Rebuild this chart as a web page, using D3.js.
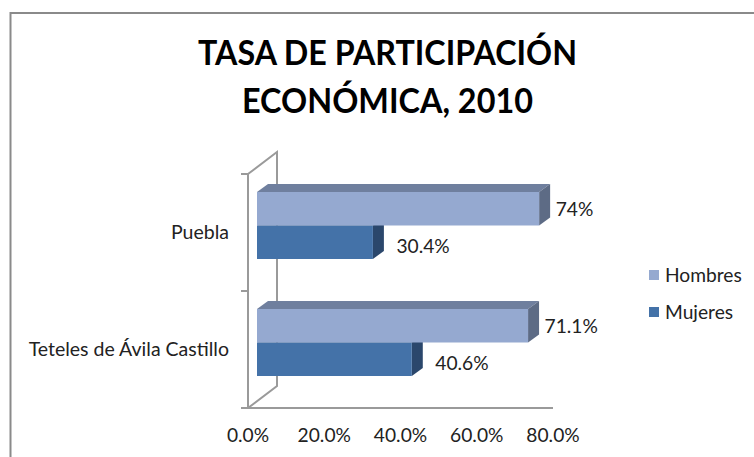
<!DOCTYPE html>
<html><head><meta charset="utf-8">
<script src="https://cdnjs.cloudflare.com/ajax/libs/d3/7.8.5/d3.min.js"></script>
<style>html,body{margin:0;padding:0;background:#fff}svg{display:block}text{font-family:Lato,"Open Sans",sans-serif;fill:#222}</style>
</head><body><svg id="c" width="754" height="457"></svg>
<script>
const categories = ["Puebla", "Teteles de Ávila Castillo"];
const seriesNames = ["Hombres", "Mujeres"];
const hombres = [74, 71.1];
const mujeres = [30.4, 40.6];
const hombresLabels = ["74%", "71.1%"];
const mujeresLabels = ["30.4%", "40.6%"];
const xTicks = [0, 20, 40, 60, 80];
const titleLines = ["TASA DE PARTICIPACIÓN", "ECONÓMICA, 2010"];

const svg = d3.select("#c");
const dx = 11, dy = 8, wallDx = 29, wallDy = 22;
const x = d3.scaleLinear().domain([0, 80]).range([248, 553]);
const y = d3.scaleBand().domain(categories).range([174, 408]);
const barOffset = 9;
const barTop = 18, barH = 33.5;
const grey = "#9a9a9a";
const fs = 19.2;

// frame
svg.append("path").attr("d", "M10.5,457V13H754").attr("fill", "none").attr("stroke", "#8a8a8a").attr("stroke-width", 2);

// title
const titleW = [379, 291];
svg.selectAll("text.t").data(titleLines).join("text").attr("class", "t")
  .attr("x", 387.5).attr("y", (d, i) => 65 + i * 47.5).attr("text-anchor", "middle")
  .attr("font-size", 35).attr("font-weight", 700).style("fill", "#000")
  .attr("textLength", (d, i) => titleW[i]).attr("lengthAdjust", "spacingAndGlyphs").text(d => d);

// walls and axes
const x0 = x(0), yTop = y.range()[0], yBot = y.range()[1];
const axis = svg.append("g").attr("fill", "none").attr("stroke", grey).attr("stroke-width", 2);
axis.append("path").attr("d", `M${x0},${yTop}L${x0 + wallDx},${yTop - wallDy}V${yBot - wallDy}L${x0},${yBot}`);
axis.append("path").attr("d", `M${x0},${yTop}V${yBot}H${x(80)}`);
[...categories.map(c => y(c)), yBot].forEach(t => axis.append("path").attr("d", `M${x0 - 7},${t}H${x0}`));

// bars
function bar(g, v, top, front, topc, side) {
  const l = x0 + barOffset, r = l + (x(v) - x0);
  g.append("path").attr("d", `M${l},${top}l${dx},${-dy}H${r + dx}l${-dx},${dy}Z`).attr("fill", topc);
  g.append("path").attr("d", `M${r},${top}l${dx},${-dy}v${barH}l${-dx},${dy}Z`).attr("fill", side);
  g.append("rect").attr("x", l).attr("y", top).attr("width", r - l).attr("height", barH).attr("fill", front);
}
const C = { h: ["#95a9d0", "#6f7f9e", "#5d6b85"], m: ["#4472a8", "#33567f", "#2b476c"] };
categories.forEach((c, i) => {
  const g = svg.append("g"), t = y(c) + barTop;
  bar(g, mujeres[i], t + barH, ...C.m);
  bar(g, hombres[i], t, ...C.h);
  const lab = (v, s, yy, gap) => svg.append("text").attr("x", x0 + barOffset + (x(v) - x0) + dx + gap)
    .attr("y", yy).attr("font-size", fs).text(s);
  lab(hombres[i], hombresLabels[i], t + 24, 5.5);
  lab(mujeres[i], mujeresLabels[i], t + barH + 27.5, 12.5);
  svg.append("text").attr("x", 229).attr("text-anchor", "end")
    .attr("y", y(c) + 65).attr("font-size", 19.5).text(c);
});

// x tick labels
svg.selectAll("text.x").data(xTicks).join("text").attr("class", "x")
  .attr("x", d => x(d)).attr("y", 442).attr("text-anchor", "middle").attr("font-size", fs)
  .text(d => d3.format(".1f")(d) + "%");

// legend
seriesNames.forEach((s, i) => {
  const yy = 275 + i * 37;
  svg.append("rect").attr("x", 649).attr("y", yy - 5).attr("width", 10).attr("height", 10).attr("fill", C[i ? "m" : "h"][0]);
  svg.append("text").attr("x", 665).attr("y", yy + 7).attr("font-size", fs).text(s);
});
</script></body></html>
